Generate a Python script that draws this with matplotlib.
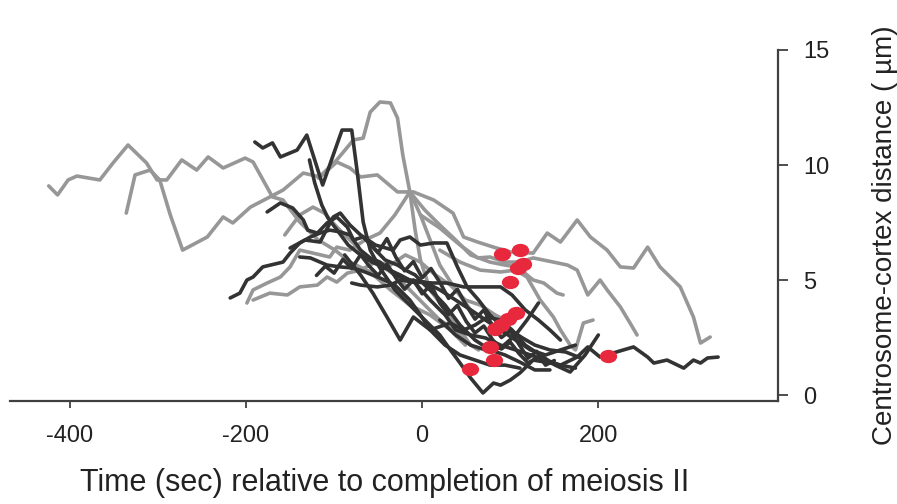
import matplotlib
matplotlib.use("Agg")
import matplotlib.pyplot as plt
from matplotlib.path import Path
from matplotlib.transforms import Affine2D

plt.rcParams['font.family'] = ['Liberation Sans', 'DejaVu Sans']

# ---------------- data (time in sec, distance in um) ----------------
x_ticks = [-400, -200, 0, 200]
y_ticks = [0, 5, 10, 15]
x_label = "Time (sec) relative to completion of meiosis II"
y_label = "Centrosome-cortex distance ( \u00b5m)"

# gray traces
g1_t = [-424, -414, -402, -392, -366, -351, -334, -313, -301, -290, -273, -256, -243, -226, -201, -192, -170, -158, -139, -118, -99, -82, -59, -36, -14, 9, 32, 49]
g1_d = [9.09, 8.70, 9.35, 9.52, 9.35, 10.09, 10.87, 10.09, 9.35, 9.35, 10.22, 9.78, 10.35, 9.87, 10.30, 10.13, 8.61, 8.48, 7.52, 6.74, 6.30, 5.78, 5.35, 4.57, 3.91, 3.48, 2.83, 2.17]

g2_t = [-336, -326, -309, -298, -286, -272, -244, -226, -215, -195, -158, -135, -116, -97, -82, -70, -51, -28, -10, 13, 35, 47, 63, 81, 100, 126, 142, 157, 176, 191, 210, 225, 240, 256, 270, 293, 308, 316, 327]
g2_d = [7.91, 9.57, 9.78, 9.35, 7.83, 6.30, 6.87, 7.74, 7.48, 8.17, 8.91, 9.65, 9.48, 10.13, 9.87, 9.48, 9.57, 8.83, 8.83, 8.48, 7.91, 6.87, 6.65, 6.43, 6.22, 6.17, 7.04, 6.65, 7.61, 6.87, 6.30, 5.57, 5.52, 6.43, 5.57, 4.70, 3.39, 2.26, 2.52]

g3_t = [-118, -97, -78, -67, -59, -48, -36, -28, -22, -14, -8, -2, 9, 26, 43, 55, 64]
g3_d = [9.43, 10.22, 11.09, 11.17, 12.30, 12.74, 12.70, 12.04, 10.43, 8.83, 7.17, 5.87, 4.57, 3.70, 2.83, 2.17, 1.96]

g4_t = [-199, -192, -176, -161, -150, -139, -124, -105, -97, -82, -65, -48, -31, -14, -2, 9, 20, 38, 55, 72, 89, 100]
g4_d = [4.00, 4.57, 4.87, 5.13, 5.57, 6.30, 6.17, 6.00, 6.43, 6.30, 6.74, 7.04, 7.83, 8.83, 7.83, 6.74, 5.65, 4.57, 3.70, 3.26, 2.83, 2.61]

g5_t = [-192, -173, -153, -139, -119, -108, -97, -85, -70, -53, -36, -19, -2, 15, 32, 49, 66, 83, 94]
g5_d = [4.13, 4.43, 4.35, 4.70, 4.78, 5.13, 4.91, 5.30, 5.43, 5.78, 5.65, 6.09, 5.78, 5.22, 4.78, 4.13, 3.91, 3.48, 3.26]

g6_t = [-2, 20, 43, 63, 77, 94, 111, 126, 149, 165, 176, 188, 202, 210, 225, 236, 244]
g6_d = [7.83, 7.26, 6.52, 5.96, 6.00, 5.78, 5.78, 5.96, 5.78, 5.65, 5.43, 4.35, 5.00, 4.57, 3.83, 3.13, 2.61]

g7_t = [-14, 3, 20, 38, 55, 77, 94, 108, 126, 138, 153, 160]
g7_d = [8.83, 8.04, 7.39, 6.74, 6.09, 5.78, 5.65, 5.57, 5.00, 4.87, 4.43, 4.35]

g8_t = [20, 43, 66, 89, 106, 119, 134, 149, 157, 168, 174, 183, 194]
g8_d = [6.30, 5.78, 5.43, 5.35, 5.43, 5.13, 4.13, 3.39, 2.83, 2.17, 1.96, 3.13, 3.26]

g9_t = [-156, -139, -124, -111, -99, -88, -76, -65, -48, -31, -14, 3, 20, 38, 49]
g9_d = [6.96, 7.83, 8.17, 7.91, 7.39, 6.96, 6.52, 6.09, 5.65, 5.22, 4.57, 3.91, 3.26, 2.83, 2.39]

# dark traces
d1_t = [-190, -181, -170, -161, -142, -131, -113, -91, -80, -74, -67, -59, -48, -31, -14, 3, 20, 32, 43, 55, 69, 81, 89, 100, 111, 126, 140, 157, 176, 188, 202, 217, 240, 256, 263, 278, 297, 308, 316, 324, 336]
d1_d = [11.00, 10.74, 10.96, 10.35, 10.65, 11.30, 9.13, 11.52, 11.52, 9.78, 7.52, 6.30, 5.52, 4.57, 3.91, 3.26, 2.61, 1.96, 1.39, 0.74, 0.09, 0.52, 0.43, 0.65, 0.96, 1.52, 1.43, 1.30, 1.65, 2.09, 1.65, 1.83, 2.09, 1.65, 1.39, 1.52, 1.17, 1.52, 1.39, 1.61, 1.65]

d2_t = [-128, -122, -114, -107, -95, -84, -70, -57, -42, -25, -8, 9, 26, 38, 55, 72, 89, 106, 123, 140, 157, 174]
d2_d = [10.22, 9.22, 8.26, 7.70, 7.09, 6.52, 6.09, 5.78, 5.52, 5.22, 4.87, 4.13, 3.48, 2.83, 2.61, 2.48, 2.17, 1.96, 1.74, 1.52, 1.30, 1.17]

d3_t = [-218, -207, -199, -192, -181, -158, -150, -139, -127, -116, -105, -93, -82, -70, -59, -48, -31, -14, 3, 20, 38, 55, 72, 89, 106, 123, 140, 157, 174]
d3_d = [4.22, 4.43, 5.00, 5.13, 5.57, 5.78, 6.17, 6.61, 6.87, 7.04, 7.17, 7.09, 6.96, 6.30, 5.96, 5.78, 5.22, 5.00, 4.91, 4.57, 4.13, 3.70, 3.26, 2.83, 2.39, 1.96, 1.74, 1.96, 2.17]

d4_t = [-176, -161, -147, -135, -130, -119, -108, -97, -85, -78, -67, -53, -42, -28, -19, -8, 3, 15, 26, 43, 60, 77, 94, 111, 128, 145]
d4_d = [7.96, 8.35, 8.13, 7.61, 7.17, 7.04, 7.48, 7.74, 7.30, 6.74, 6.87, 6.30, 5.87, 5.65, 5.43, 5.22, 4.78, 4.35, 3.91, 3.04, 2.39, 1.96, 1.74, 1.43, 1.09, 1.09]

d5_t = [-139, -127, -108, -93, -78, -65, -48, -31, -14, -2, 9, 26, 43, 60, 77, 94, 111]
d5_d = [6.00, 5.96, 5.65, 5.57, 5.52, 5.35, 5.09, 4.78, 4.13, 3.48, 2.83, 2.17, 1.74, 1.52, 1.30, 1.30, 1.17]

d6_t = [-80, -70, -51, -36, -25, -10, 13, 28, 47, 69, 89, 102, 117, 132, 145, 157]
d6_d = [4.87, 4.78, 4.70, 4.78, 5.00, 4.91, 4.87, 4.87, 4.70, 4.70, 4.70, 4.35, 3.70, 3.26, 2.83, 2.39]

d7_t = [-88, -70, -56, -40, -25, -10, 9, 32, 47, 60, 74, 89, 102, 117, 134, 151, 168, 185, 200]
d7_d = [6.09, 5.22, 4.43, 3.39, 2.39, 3.39, 2.83, 3.13, 2.83, 3.04, 3.39, 3.26, 2.83, 2.17, 1.74, 1.30, 1.00, 1.74, 2.61]

d8_t = [-150, -133, -116, -101, -93, -82, -70, -53, -33, -25, -14, -2, 13, 28, 40, 51, 64, 77, 89, 100, 114, 128, 145, 163, 180]
d8_d = [6.39, 6.74, 6.65, 7.74, 7.91, 7.39, 6.96, 6.52, 6.30, 6.74, 6.87, 6.52, 6.61, 6.61, 5.57, 4.70, 4.13, 3.48, 3.04, 2.83, 2.48, 2.17, 1.96, 1.87, 1.61]

d9_t = [20, 38, 55, 72, 89, 106, 119, 132]
d9_d = [3.26, 2.61, 2.17, 1.96, 2.04, 2.61, 3.26, 4.00]

d10_t = [-120, -110, -100, -90, -80, -70, -60, -50, -40, -30, -20, -10, 0, 10, 20, 30, 40, 50, 60, 70, 80, 90, 100, 110, 120, 130]
d10_d = [5.2, 5.6, 5.3, 5.9, 5.5, 6.1, 5.6, 5.2, 5.7, 5.1, 4.6, 5.0, 4.4, 4.8, 4.0, 3.5, 3.9, 3.2, 2.7, 3.0, 2.4, 2.0, 2.3, 1.8, 1.4, 1.6]

d11_t = [-60, -50, -40, -30, -20, -10, 0, 10, 20, 30, 40, 50, 60, 70, 80, 90, 100, 110, 120, 130, 140, 150]
d11_d = [6.6, 6.2, 6.8, 6.0, 5.4, 5.8, 5.1, 5.5, 4.9, 4.2, 4.6, 3.9, 3.3, 3.7, 3.0, 2.5, 2.8, 2.2, 1.6, 1.9, 1.3, 1.5]

# red event markers
red_t = [91, 111, 109, 114, 100, 106, 97, 89, 83, 77, 81, 54, 211]
red_d = [6.13, 6.30, 5.52, 5.70, 4.91, 3.57, 3.30, 3.04, 2.85, 2.09, 1.52, 1.13, 1.70]

gray_traces = [(g1_t, g1_d), (g2_t, g2_d), (g3_t, g3_d), (g4_t, g4_d), (g5_t, g5_d),
               (g6_t, g6_d), (g7_t, g7_d), (g8_t, g8_d), (g9_t, g9_d)]
dark_traces = [(d1_t, d1_d), (d2_t, d2_d), (d3_t, d3_d), (d4_t, d4_d), (d5_t, d5_d),
               (d6_t, d6_d), (d7_t, d7_d), (d8_t, d8_d), (d9_t, d9_d),
               (d10_t, d10_d), (d11_t, d11_d)]

# ---------------- figure ----------------
fig = plt.figure(figsize=(8.97, 5.04), dpi=100)
ax = fig.add_axes([10 / 897, 1 - 401 / 504, 768 / 897, 351 / 504])
ax.set_xlim(-468, 404)
ax.set_ylim(-0.26, 15)

gray_col = '#979797'
dark_col = '#333333'
for t, d in gray_traces:
    ax.plot(t, d, color=gray_col, lw=2.6, solid_joinstyle='round', solid_capstyle='round', zorder=2)
for t, d in dark_traces:
    ax.plot(t, d, color=dark_col, lw=2.6, solid_joinstyle='round', solid_capstyle='round', zorder=3)

ell = Path.unit_circle().transformed(Affine2D().scale(1.3, 1.0))
ax.scatter(red_t, red_d, marker=ell, s=155, color='#e8283c', linewidths=0, zorder=5)

for s in ['left', 'top']:
    ax.spines[s].set_visible(False)
for s in ['right', 'bottom']:
    ax.spines[s].set_color('#404040')
    ax.spines[s].set_linewidth(1.6)

ax.yaxis.tick_right()
ax.set_xticks(x_ticks)
ax.set_yticks(y_ticks)
ax.set_xticklabels([str(v) for v in x_ticks])
ax.tick_params(axis='x', direction='out', length=5, width=1.3, pad=12, labelsize=17,
               color='#404040', labelcolor='#222222')
ax.tick_params(axis='y', direction='out', length=7, width=1.3, pad=11, labelsize=17,
               color='#404040', labelcolor='#222222')

ax.set_xlabel(x_label, fontsize=22, color='#222222')
ax.xaxis.set_label_coords(0.488, -0.19)
ax.yaxis.set_label_position('right')
ax.set_ylabel(y_label, fontsize=20, color='#222222', rotation=90)
ax.yaxis.set_label_coords(1.122, 0.473)

fig.savefig('out.png', dpi=100)
